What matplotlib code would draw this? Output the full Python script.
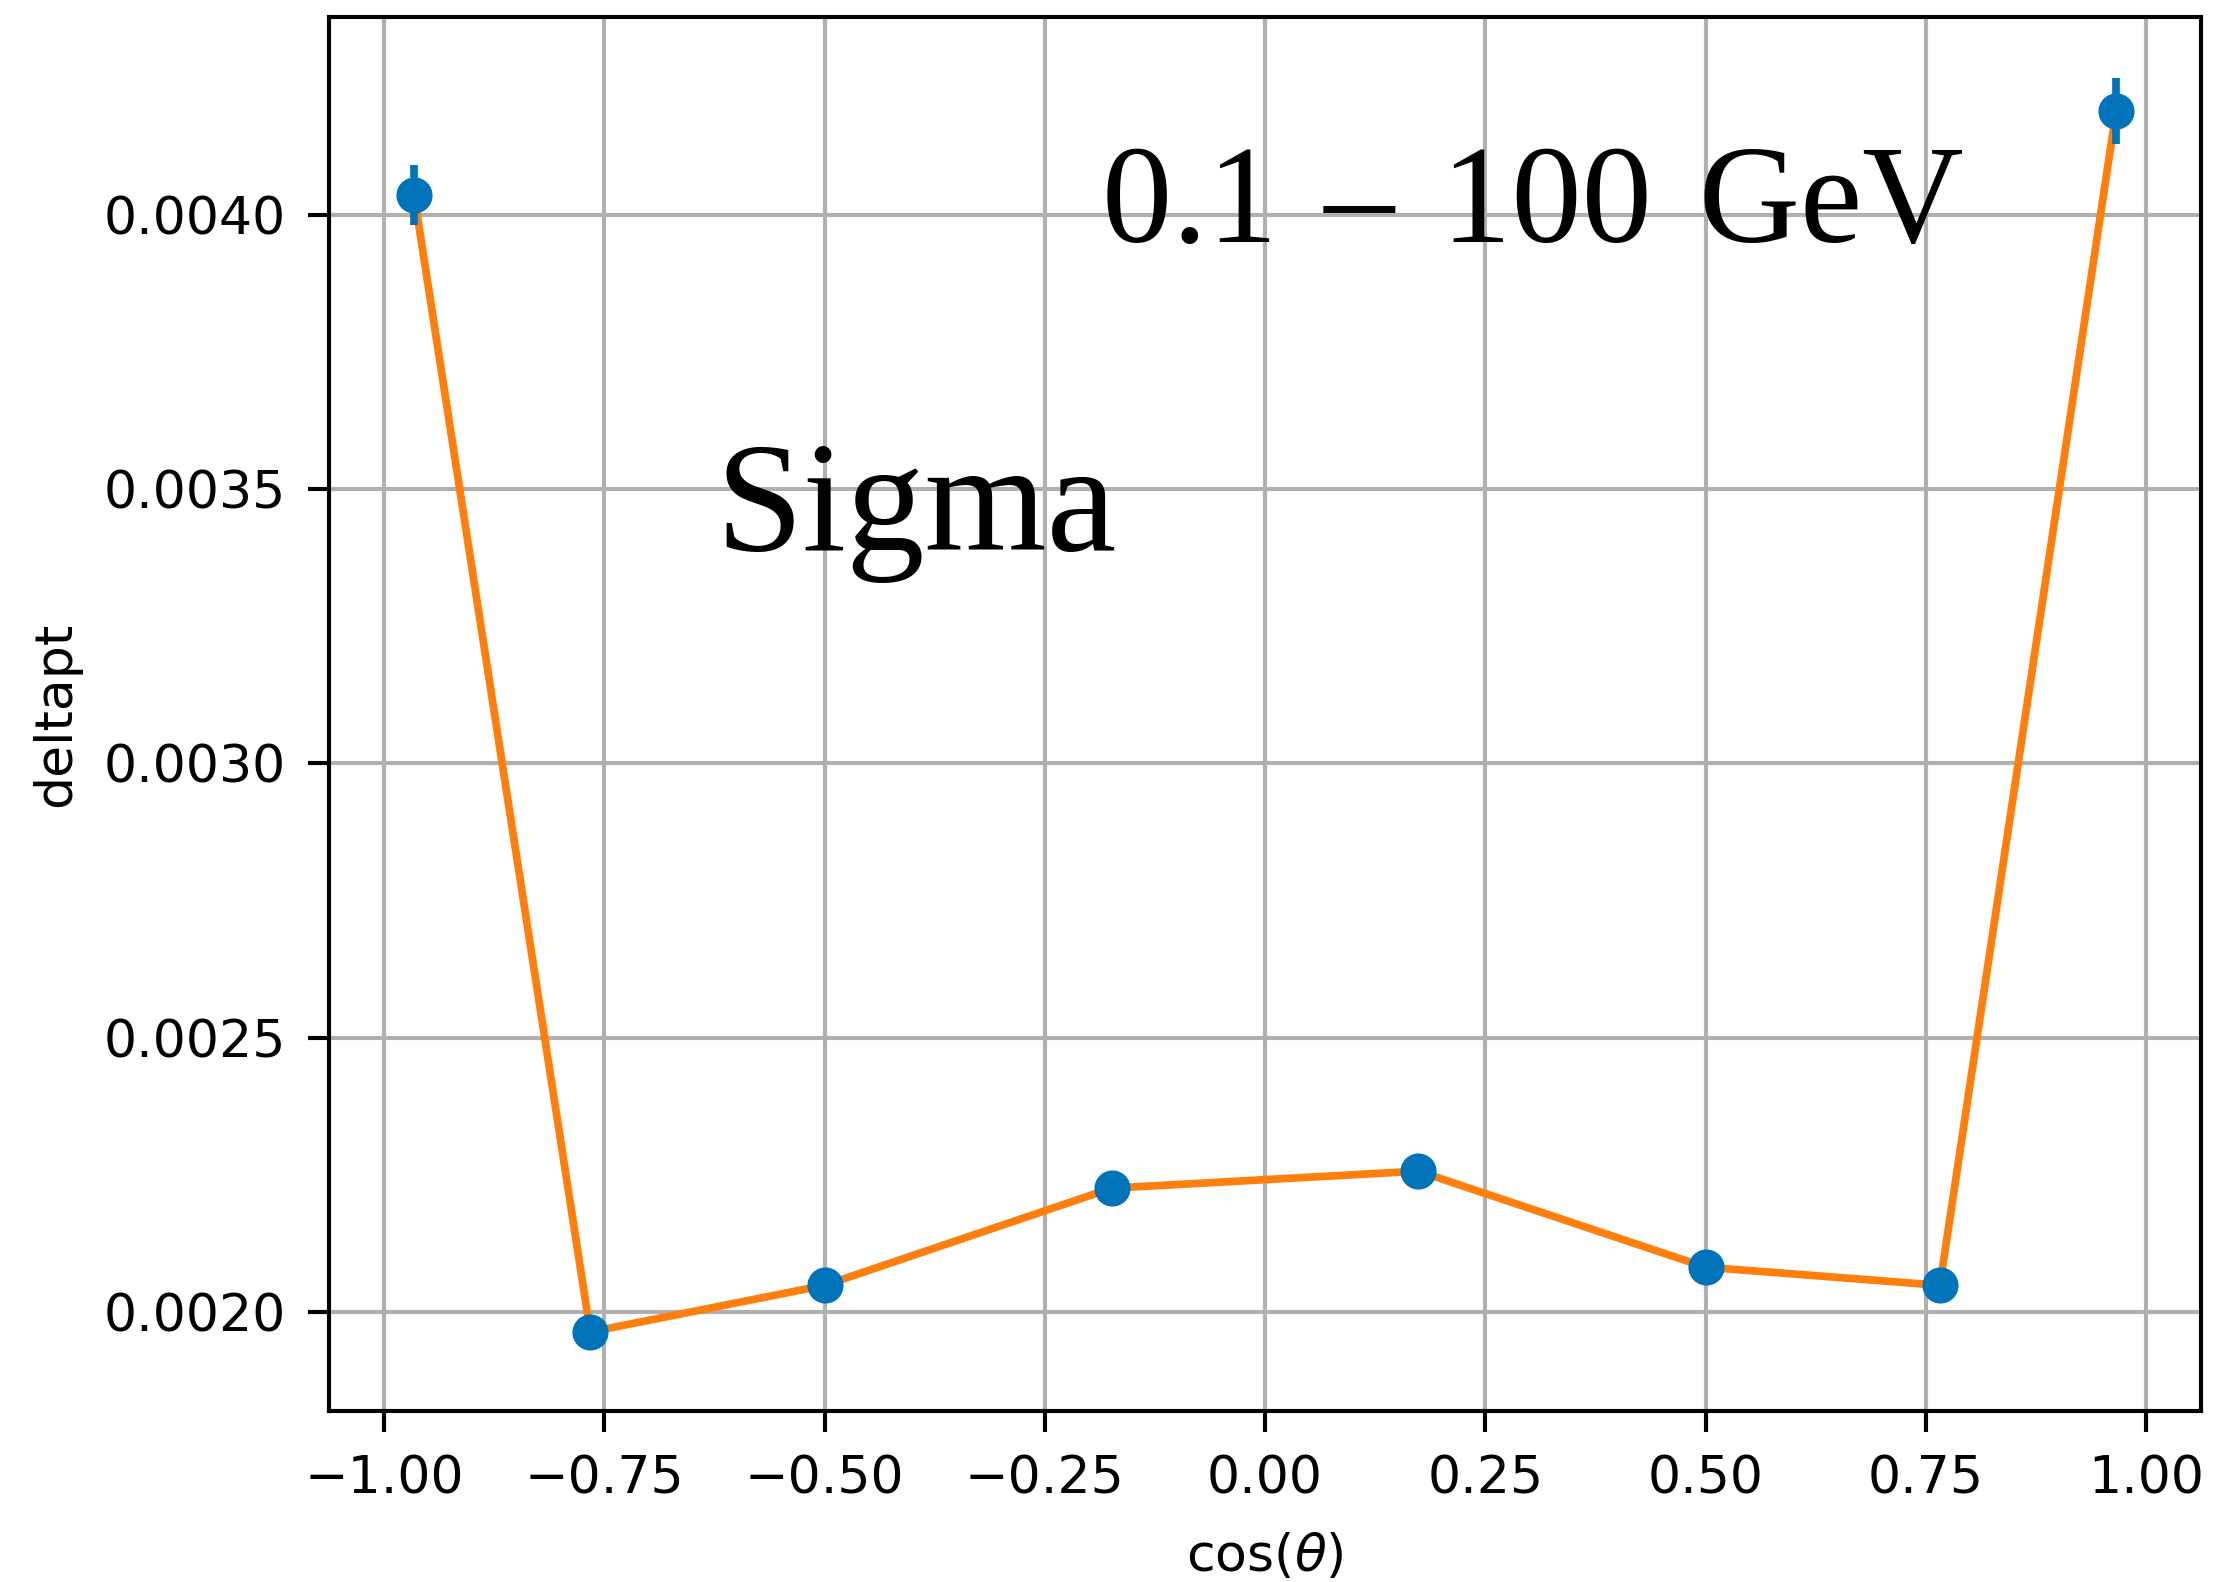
import matplotlib
matplotlib.use("Agg")
import matplotlib.pyplot as plt

# Data
cos_theta = [-0.966, -0.766, -0.500, -0.174, 0.174, 0.500, 0.766, 0.966]
deltapt = [0.004036, 0.001964, 0.002049, 0.002226, 0.002257, 0.002082, 0.002049, 0.004188]
deltapt_err = [0.000055, 0.000012, 0.000010, 0.000010, 0.000010, 0.000010, 0.000010, 0.000060]

xlabel = r"cos($\theta$)"
ylabel = "deltapt"
energy_text = "0.1\u200a \u2013 \u200a100\u200a GeV"
particle_text = "Sigma"

S = 3.7  # scale relative to default matplotlib sizes

fig = plt.figure(figsize=(22.13, 15.82), dpi=100)
ax = fig.add_axes([0.1487, 0.1081, 0.9946 - 0.1487, 0.9893 - 0.1081])

ax.plot(cos_theta, deltapt, color="#ff7f0e", lw=1.5 * S, zorder=2)
ax.errorbar(cos_theta, deltapt, yerr=deltapt_err, fmt="o", color="#0173b9",
            ms=25, elinewidth=1.5 * S, zorder=3)

ax.set_xlim(-1.0625, 1.0625)
ax.set_ylim(0.00182, 0.00436)
ax.set_xticks([-1.0, -0.75, -0.5, -0.25, 0.0, 0.25, 0.5, 0.75, 1.0])
ax.set_yticks([0.0020, 0.0025, 0.0030, 0.0035, 0.0040])
ax.set_yticklabels(["0.0020", "0.0025", "0.0030", "0.0035", "0.0040"])

ax.grid(True, color="#b0b0b0", lw=0.8 * S)
ax.set_axisbelow(True)
for sp in ax.spines.values():
    sp.set_linewidth(0.8 * S)
ax.tick_params(labelsize=37.5, width=0.8 * S, length=15, pad=16)

ax.set_xlabel(xlabel, fontsize=37.5, labelpad=20)
ax.set_ylabel(ylabel, fontsize=37.5, labelpad=16)

fig.text(1102 / 2213, 1 - 242 / 1582, energy_text,
         family=["Liberation Serif", "DejaVu Serif", "DejaVu Sans"],
         fontsize=101, va="baseline", ha="left")
fig.text(716 / 2213, 1 - 550 / 1582, particle_text, family="Liberation Serif",
         fontsize=113, va="baseline", ha="left")

fig.savefig("out.png", dpi=100)
